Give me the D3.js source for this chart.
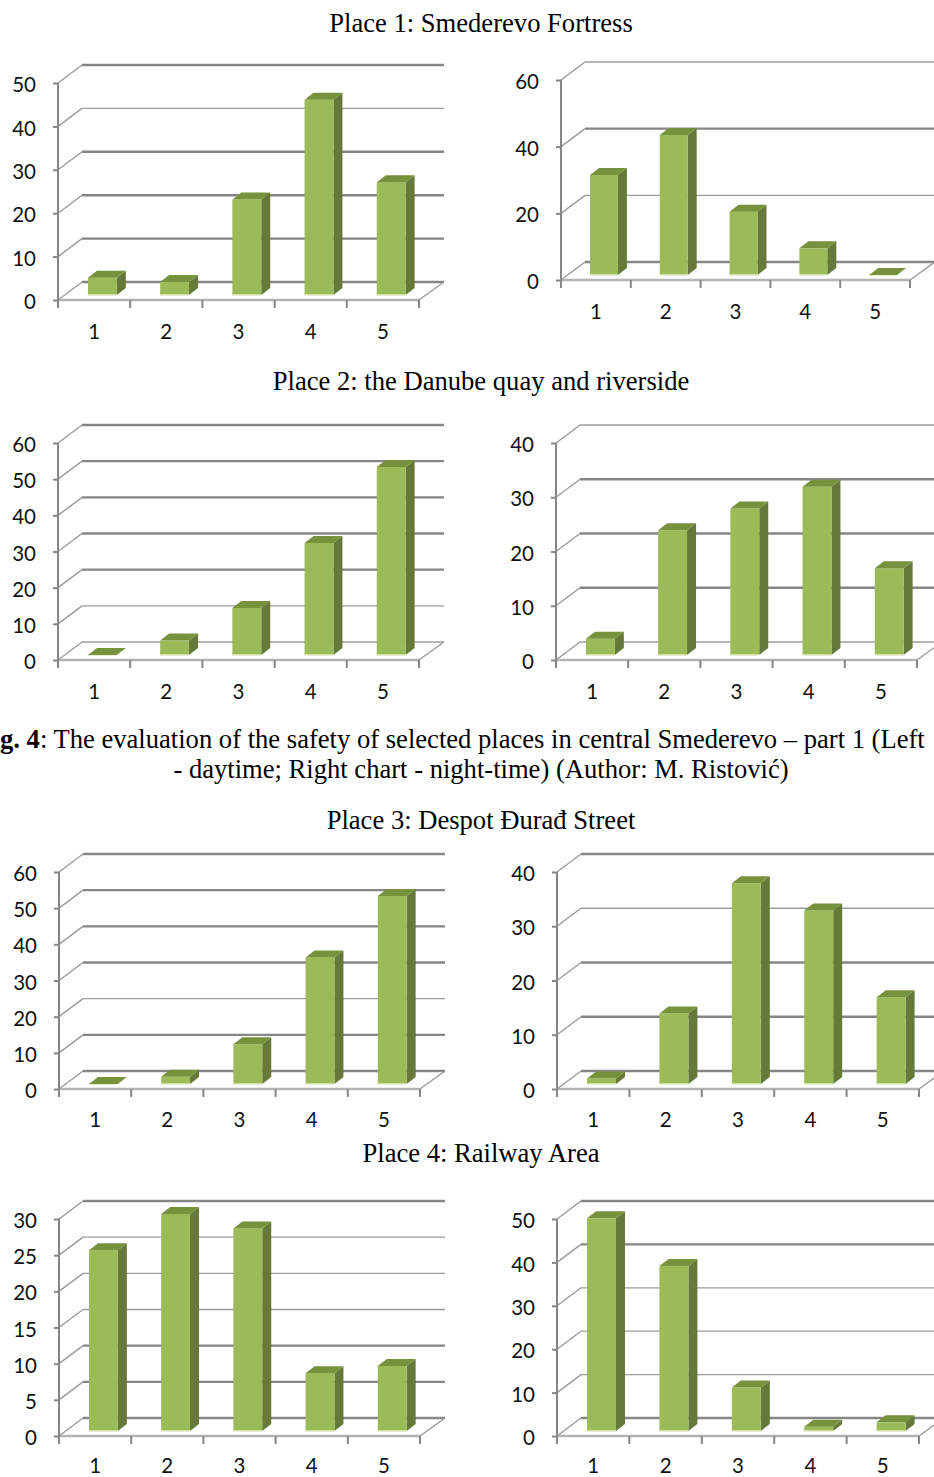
<!DOCTYPE html>
<html>
<head>
<meta charset="utf-8">
<script src="https://cdn.jsdelivr.net/npm/d3@7"></script>
<style>
  html, body { margin: 0; padding: 0; background: #fff; overflow: hidden; }
  svg { display: block; }
  .title { font-family: "Liberation Serif", serif; font-size: 26.6px; fill: #000; text-anchor: middle; }
  .axis text { font-family: Lato, sans-serif; font-size: 20.5px; fill: #111; }
  .axis path { display: none; }
  .axis line { stroke: #868686; stroke-width: 2; }
</style>
</head>
<body>
<svg id="page" width="934" height="1477"></svg>
<script>
// values
var categories = ["1", "2", "3", "4", "5"]

var place1Day = [4, 3, 22, 45, 26]
var place1Night = [30, 42, 19, 8, 0]
var place2Day = [0, 4, 13, 31, 52]
var place2Night = [3, 23, 27, 31, 16]
var place3Day = [0, 2, 11, 35, 52]
var place3Night = [1, 13, 37, 32, 16]
var place4Day = [25, 30, 28, 8, 9]
var place4Night = [49, 38, 10, 1, 2]

var ticks10to50 = [0, 10, 20, 30, 40, 50]
var ticks10to60 = [0, 10, 20, 30, 40, 50, 60]
var ticks20to60 = [0, 20, 40, 60]
var ticks10to40 = [0, 10, 20, 30, 40]
var ticks5to30 = [0, 5, 10, 15, 20, 25, 30]

var titles = [
  { text: "Place 1: Smederevo Fortress", y: 32 },
  { text: "Place 2: the Danube quay and riverside", y: 390 },
  { text: "- daytime; Right chart - night-time) (Author: M. Ristović)", y: 778 },
  { text: "Place 3: Despot Đurađ Street", y: 829 },
  { text: "Place 4: Railway Area", y: 1162 }
]

// where each little chart sits on the page
// thin: wall lines that come out hairline in the picture, the others are heavier
var panels = [
  { values: place1Day,   ticks: ticks10to50, thin: [40],         pad: 24, x0: 58,  x1: 419, y0: 300,  y1: 83 },
  { values: place1Night, ticks: ticks20to60, thin: [20, 60],     pad: 24, x0: 561, x1: 910, y0: 280,  y1: 80 },
  { values: place2Day,   ticks: ticks10to60, thin: [0, 10],      pad: 24, x0: 58,  x1: 419, y0: 660,  y1: 443 },
  { values: place2Night, ticks: ticks10to40, thin: [0, 40],      pad: 24, x0: 556, x1: 917, y0: 660,  y1: 443 },
  { values: place3Day,   ticks: ticks10to60, thin: [20],         pad: 23, x0: 59,  x1: 420, y0: 1089, y1: 872 },
  { values: place3Night, ticks: ticks10to40, thin: [30],         pad: 23, x0: 557, x1: 919, y0: 1089, y1: 872 },
  { values: place4Day,   ticks: ticks5to30,  thin: [15, 20, 25], pad: 22, x0: 59,  x1: 420, y0: 1436, y1: 1219 },
  { values: place4Night, ticks: ticks10to50, thin: [10, 20, 30], pad: 22, x0: 557, x1: 919, y0: 1436, y1: 1219 }
]

var wallDx = 24, wallDy = -18   // depth of the back wall
var barDx = 9, barDy = -7       // depth of one bar
var barLift = 5                 // bars stand a bit behind the front edge

var svg = d3.select("#page")

svg.selectAll("text.title")
  .data(titles)
  .enter().append("text")
  .attr("class", "title")
  .attr("x", 481)
  .attr("y", function(d) { return d.y })
  .text(function(d) { return d.text })

// caption line is cut by the page edge on both sides
var caption = svg.append("text")
  .attr("class", "title")
  .attr("x", 0)
  .attr("y", 748)
  .style("text-anchor", "start")
caption.append("tspan").style("font-weight", "bold").text("g. 4")
caption.append("tspan").text(": The evaluation of the safety of selected places in central Smederevo – part 1 (Left")

function poly(points) {
  return points.map(function(p) { return p.join(",") }).join(" ")
}

function drawPanel(p) {
  var g = svg.append("g")
  var x = d3.scaleBand().domain(categories).range([p.x0, p.x1])
  var y = d3.scaleLinear().domain([0, d3.max(p.ticks)]).range([p.y0, p.y1])
  var w = x.bandwidth() * 0.4

  // back wall lines and the slanted bits on the left side
  p.ticks.forEach(function(t) {
    var thin = p.thin.indexOf(t) >= 0
    g.append("line")
      .attr("x1", p.x0 + wallDx).attr("x2", p.x1 + wallDx + 1)
      .attr("y1", y(t) + wallDy).attr("y2", y(t) + wallDy)
      .attr("stroke", thin ? "#9c9c9c" : "#868686")
      .attr("stroke-width", thin ? 1.3 : 2.4)
    g.append("line")
      .attr("x1", p.x0).attr("x2", p.x0 + wallDx)
      .attr("y1", y(t)).attr("y2", y(t) + wallDy)
      .attr("stroke", "#9a9a9a").attr("stroke-width", 1.4)
  })

  // floor edges
  g.append("line")
    .attr("x1", p.x1).attr("x2", p.x1 + wallDx + 1)
    .attr("y1", p.y0).attr("y2", p.y0 + wallDy)
    .attr("stroke", "#9a9a9a").attr("stroke-width", 1.4)
  g.append("line")
    .attr("x1", p.x0).attr("x2", p.x1)
    .attr("y1", p.y0).attr("y2", p.y0)
    .attr("stroke", "#b4b4b4").attr("stroke-width", 2.4)
  g.append("line")
    .attr("x1", p.x0).attr("x2", p.x0)
    .attr("y1", p.y1).attr("y2", p.y0)
    .attr("stroke", "#868686").attr("stroke-width", 2)

  // axes
  var yAxis = g.append("g")
    .attr("class", "axis")
    .attr("transform", "translate(" + p.x0 + ",0)")
    .call(d3.axisLeft(y).tickValues(p.ticks).tickSize(5).tickPadding(17))
  yAxis.selectAll("text").attr("dy", "0.42em")

  var xAxis = g.append("g")
    .attr("class", "axis")
    .attr("transform", "translate(0," + p.y0 + ")")
    .call(d3.axisBottom(x).tickSize(0).tickPadding(p.pad))
  // axisBottom puts ticks at band centres, here they go on the band edges
  xAxis.selectAll(".tickEdge")
    .data(categories.concat(["end"]))
    .enter().append("line")
    .attr("class", "tickEdge")
    .attr("x1", function(d) { return d === "end" ? p.x1 : x(d) })
    .attr("x2", function(d) { return d === "end" ? p.x1 : x(d) })
    .attr("y1", 0).attr("y2", 8)

  // bars
  var base = p.y0 - barLift
  var bars = g.selectAll(".bar")
    .data(p.values.map(function(v, i) { return { cat: categories[i], v: v } }))
    .enter().append("g").attr("class", "bar")

  function left(d) { return x(d.cat) + x.bandwidth() * 0.415 }
  function top(d) { return base - (p.y0 - y(d.v)) }

  bars.append("polygon")
    .attr("fill", "#66783a")
    .attr("points", function(d) {
      var l = left(d) + w, t = top(d)
      return poly([[l, t], [l + barDx, t + barDy], [l + barDx, base + barDy], [l, base]])
    })
  bars.append("rect")
    .attr("fill", "#9bbb59")
    .attr("x", left)
    .attr("y", top)
    .attr("width", w)
    .attr("height", function(d) { return base - top(d) })
  // pale rim along the foot of each bar
  bars.append("rect")
    .attr("fill", "#cfe0a8")
    .attr("x", left)
    .attr("y", base - 1)
    .attr("width", w)
    .attr("height", 1.5)
  bars.append("polygon")
    .attr("fill", "#76923c")
    .attr("points", function(d) {
      var l = left(d), t = top(d)
      return poly([[l, t], [l + w, t], [l + w + barDx, t + barDy], [l + barDx, t + barDy]])
    })
}

panels.forEach(drawPanel)
</script>
</body>
</html>
